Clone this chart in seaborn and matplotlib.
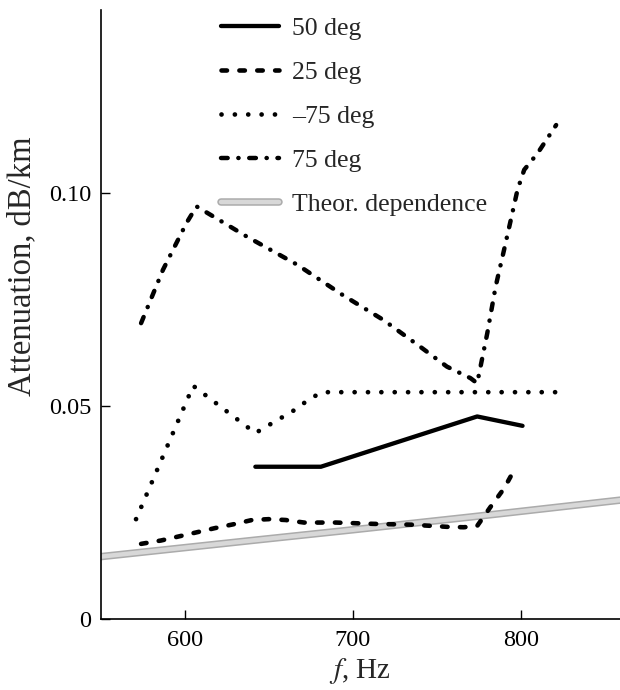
import numpy as np
import pandas as pd
import matplotlib
matplotlib.use("Agg")
import matplotlib.pyplot as plt
import matplotlib.patheffects as pe
import seaborn as sns

# 50 deg
f_50 = [642, 681, 774, 801]
a_50 = [0.0358, 0.0358, 0.0476, 0.0454]

# 25 deg
f_25 = [574, 586, 607, 618, 629, 640, 650, 660, 671, 690, 712, 735, 756, 766, 774, 782, 790, 796]
a_25 = [0.0177, 0.0185, 0.0204, 0.0214, 0.0223, 0.0233, 0.0235, 0.0233, 0.0227, 0.0227,
        0.0224, 0.0222, 0.0217, 0.0216, 0.0219, 0.0264, 0.0307, 0.0350]

# -75 deg
f_m75 = [571, 605, 642, 651, 667, 674, 682, 823]
a_m75 = [0.0235, 0.0548, 0.0437, 0.0458, 0.0495, 0.0517, 0.0533, 0.0533]

# 75 deg
f_75 = [574, 587, 601, 607, 637, 667, 694, 718, 740, 756, 770, 774, 776, 780, 785, 790,
        794, 798, 802, 810, 821]
a_75 = [0.0695, 0.0820, 0.0930, 0.0969, 0.0898, 0.0832, 0.0761, 0.0703, 0.0640, 0.0593,
        0.0566, 0.0554, 0.0593, 0.0671, 0.0781, 0.0867, 0.0937, 0.1008, 0.1055, 0.1094, 0.1160]

# theoretical dependence
f_th = [550, 640, 700, 770, 860]
a_th = [0.0147, 0.0185, 0.0210, 0.0240, 0.0280]

labels = ["50 deg", "25 deg", "\u201375 deg", "75 deg", "Theor. dependence"]

sns.set_theme(style="ticks")
plt.rcParams["font.family"] = ["Liberation Serif", "DejaVu Serif"]
plt.rcParams["mathtext.fontset"] = "stix"

fig = plt.figure(figsize=(6.2, 6.9), dpi=100)
ax = fig.add_axes([0.1625, 0.1025, 0.8375, 0.883])

sns.lineplot(x=f_th, y=a_th, ax=ax, color="#d8d8d8", linewidth=3.2, label=labels[4],
             path_effects=[pe.Stroke(linewidth=5.4, foreground="#ababab"), pe.Normal()])
sns.lineplot(x=f_50, y=a_50, ax=ax, color="black", linewidth=3.1, label=labels[0])
sns.lineplot(x=f_25, y=a_25, ax=ax, color="black", linewidth=3.3, label=labels[1],
             linestyle=(0, (1.2, 2.7)), dash_capstyle="round")
sns.lineplot(x=f_m75, y=a_m75, ax=ax, color="black", linewidth=3.4, label=labels[2],
             linestyle=(0, (0.01, 2.82)), dash_capstyle="round")
sns.lineplot(x=f_75, y=a_75, ax=ax, color="black", linewidth=3.2, label=labels[3],
             linestyle=(0, (1.5, 2.4, 0.05, 2.4)), dash_capstyle="round")

ax.set_xlim(550, 859)
ax.set_ylim(0, 0.143)
ax.set_xticks([600, 700, 800])
ax.set_yticks([0, 0.05, 0.10])
ax.set_yticklabels(["0", "0.05", "0.10"])
ax.tick_params(direction="in", length=6.5, width=1, labelsize=17.5, colors="black")
ax.tick_params(axis="x", pad=8)
ax.tick_params(axis="y", pad=7)
for s in ["top", "right"]:
    ax.spines[s].set_visible(False)
for s in ["left", "bottom"]:
    ax.spines[s].set_linewidth(1.2)
    ax.spines[s].set_color("black")

ax.set_xlabel("$f$, Hz", fontsize=21, labelpad=3)
ax.set_ylabel("Attenuation, dB/km", fontsize=23.5)
ax.yaxis.set_label_coords(-0.122, 0.58)

handles, labs = ax.get_legend_handles_labels()
order = [labs.index(l) for l in labels]
leg = ax.legend([handles[i] for i in order], [labs[i] for i in order],
                loc="upper left", bbox_to_anchor=(221 / 620, 1 - 17 / 690),
                bbox_transform=fig.transFigure, frameon=False, fontsize=18.5,
                handlelength=2.25, handletextpad=0.52, labelspacing=0.82,
                borderpad=0, borderaxespad=0)

fig.savefig("out.png", dpi=100)
